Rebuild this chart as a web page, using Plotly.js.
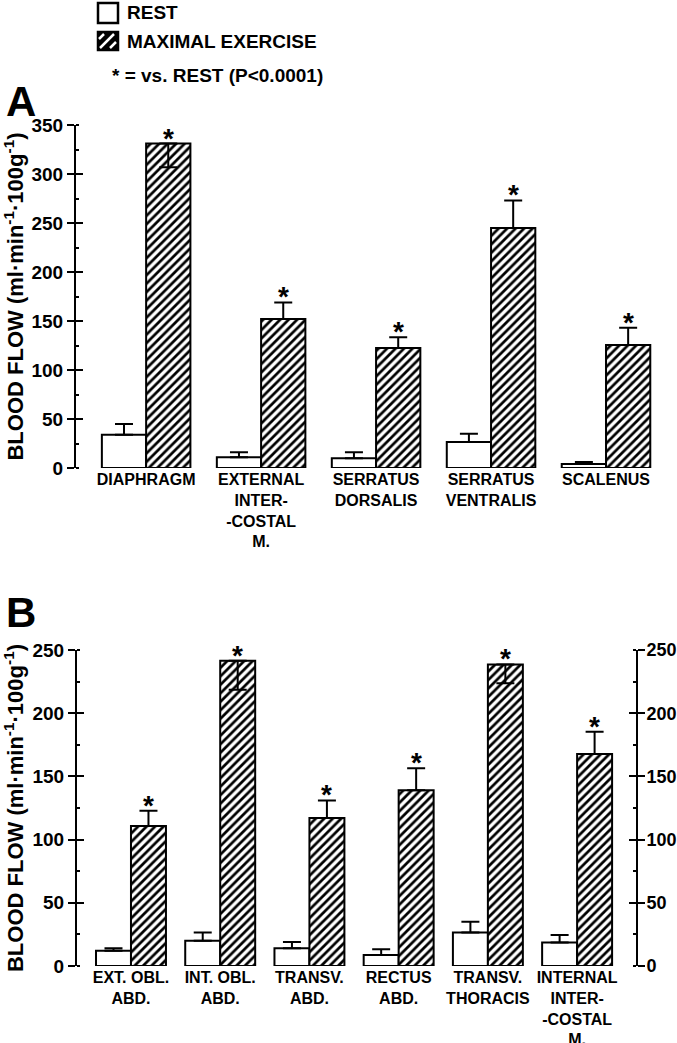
<!DOCTYPE html>
<html>
<head>
<meta charset="utf-8">
<script src="https://cdn.plot.ly/plotly-3.0.1.min.js"></script>
<style>html,body{margin:0;padding:0;background:#fff;}#chart{width:677px;height:1043px;}</style>
</head>
<body>
<div id="chart"></div>
<script>
// ---- Panel A data ----
const catsA = ["DIAPHRAGM", "EXTERNAL<br>INTER-<br>-COSTAL<br>M.", "SERRATUS<br>DORSALIS", "SERRATUS<br>VENTRALIS", "SCALENUS"];
const restA = [34, 11, 10, 26.5, 4];
const restErrA = [11, 5, 6, 8.5, 2];
const exA = [331, 152, 122.5, 245, 125.5];
const exErrUpA = [0, 17, 11, 28, 17.5];
const exErrDownA = [24, 0, 0, 0, 0];

// ---- Panel B data ----
const catsB = ["EXT. OBL.<br>ABD.", "INT. OBL.<br>ABD.", "TRANSV.<br>ABD.", "RECTUS<br>ABD.", "TRANSV.<br>THORACIS", "INTERNAL<br>INTER-<br>-COSTAL<br>M."];
const restB = [12, 20, 14, 8.7, 26.6, 18.5];
const restErrB = [2, 6.5, 5, 4.5, 8.5, 6];
const exB = [110.8, 241.5, 117, 139, 238.6, 167.7];
const exErrUpB = [12, 0, 14, 17.5, 0, 17.7];
const exErrDownB = [0, 23, 0, 0, 15, 0];

const seriesNames = ["REST", "MAXIMAL EXERCISE"];
const yTitle = "BLOOD FLOW (ml·min<sup>-1</sup>·100g<sup>-1</sup>)";
const sigNote = "* = vs. REST (P<0.0001)";

const FONT = "Liberation Sans, Arial, Helvetica, sans-serif";
const W = 677, H = 1043;
const wA = 0.385, wB = 0.392;
const px = v => v / W;          // pixel -> paper x
const py = v => 1 - v / H;      // pixel -> paper y

function restTrace(cats, vals, errs, xa, ya, w) {
  return {
    type: "bar", x: cats, y: vals, xaxis: xa, yaxis: ya,
    name: seriesNames[0], showlegend: false,
    width: w, offset: -w,
    marker: {color: "#ffffff", line: {color: "#000", width: 2}},
    error_y: {type: "data", symmetric: false, array: errs, arrayminus: errs.map(() => 0),
              color: "#000", thickness: 2, width: 9}
  };
}
function exTrace(cats, vals, up, down, xa, ya, w) {
  return {
    type: "bar", x: cats, y: vals, xaxis: xa, yaxis: ya,
    name: seriesNames[1], showlegend: false,
    width: w, offset: 0,
    marker: {color: "#ffffff", line: {color: "#000", width: 2},
             pattern: {shape: "/", fgcolor: "#000", bgcolor: "#fff", size: 6, solidity: 0.45}},
    error_y: {type: "data", symmetric: false, array: up, arrayminus: down,
              color: "#000", thickness: 2, width: 9}
  };
}
function emptyTrace(xa, ya) {
  return {type: "scatter", x: [], y: [], xaxis: xa, yaxis: ya, showlegend: false, hoverinfo: "skip", mode: "markers"};
}

const data = [
  restTrace(catsA, restA, restErrA, "x", "y", wA),
  exTrace(catsA, exA, exErrUpA, exErrDownA, "x", "y", wA),
  restTrace(catsB, restB, restErrB, "x2", "y2", wB),
  exTrace(catsB, exB, exErrUpB, exErrDownB, "x2", "y2", wB),
  emptyTrace("x2", "y3"),
  emptyTrace("x", "y4"),
  emptyTrace("x2", "y5"),
  emptyTrace("x2", "y6")
];

const tickFont = {family: FONT, size: 19, color: "#000", weight: 700};
const rightTickFont = {family: FONT, size: 18, color: "#000", weight: 700};
const catFont = {family: FONT, size: 16, color: "#000", weight: 700};
const titleFont = {family: FONT, size: 22, color: "#000", weight: 700};

const domA = [1 - 468 / H, 1 - 125 / H];
const domB = [1 - 966 / H, 1 - 650 / H];

function yMain(range, dtick, domain, extra) {
  return Object.assign({
    domain: domain, range: range, dtick: dtick, tick0: 0,
    showline: true, linecolor: "#000", linewidth: 2,
    ticks: "outside", ticklen: 7, tickwidth: 2, tickcolor: "#000",
    showgrid: false, zeroline: false, tickfont: tickFont,
    minor: {ticks: "inside", dtick: dtick / 2, ticklen: 3, tickwidth: 2, tickcolor: "#000", showgrid: false},
    automargin: false, fixedrange: true
  }, extra);
}
function yInner(over, side, anchor, range, dtick, domain) {
  return {
    overlaying: over, side: side, anchor: anchor, domain: domain, range: range, dtick: dtick, tick0: 0,
    showline: false, ticks: "inside", ticklen: 7, tickwidth: 2, tickcolor: "#000",
    showticklabels: false, showgrid: false, zeroline: false, automargin: false, fixedrange: true
  };
}

const layout = {
  width: W, height: H,
  margin: {l: 0, r: 0, t: 0, b: 0},
  paper_bgcolor: "#fff", plot_bgcolor: "rgba(0,0,0,0)",
  barmode: "group",
  font: {family: FONT, color: "#000"},
  showlegend: false,
  xaxis: {domain: [76 / W, 675 / W], range: [-0.61, 4.6], type: "category", anchor: "y",
          showline: false, ticks: "", showgrid: false, zeroline: false, tickfont: catFont,
          automargin: false, fixedrange: true},
  yaxis: yMain([0, 350], 50, domA, {anchor: "x",
          title: {text: yTitle, font: titleFont, standoff: 6}}),
  yaxis4: yInner("y", "left", "x", [0, 350], 50, domA),
  xaxis2: {domain: [77 / W, 636 / W], range: [-0.605, 5.66], type: "category", anchor: "y2",
           showline: false, ticks: "", showgrid: false, zeroline: false, tickfont: catFont,
           automargin: false, fixedrange: true},
  yaxis2: yMain([0, 250], 50, domB, {anchor: "x2",
          title: {text: yTitle, font: titleFont, standoff: 6}}),
  yaxis3: yMain([0, 250], 50, domB, {anchor: "x2", overlaying: "y2", side: "right",
          ticklabelstandoff: -2, tickfont: rightTickFont}),
  yaxis5: yInner("y2", "left", "x2", [0, 250], 50, domB),
  yaxis6: yInner("y2", "right", "x2", [0, 250], 50, domB),
  annotations: [],
  shapes: []
};

// significance stars above exercise bars
function addStars(vals, up, xref, yref, w) {
  vals.forEach((v, i) => {
    layout.annotations.push({
      x: i + w / 2, y: v + up[i], xref: xref, yref: yref,
      text: "*", showarrow: false, xanchor: "center", yanchor: "bottom", yshift: -12,
      font: {family: FONT, size: 28, color: "#000", weight: 700}
    });
  });
}
addStars(exA, exErrUpA, "x", "y", wA);
addStars(exB, exErrUpB, "x2", "y2", wB);

// ---- hand-drawn legend (keys + labels) ----
const legFont = {family: FONT, size: 19, color: "#000", weight: 700};
layout.shapes.push(
  {type: "rect", xref: "paper", yref: "paper", x0: px(98), x1: px(118), y0: py(3), y1: py(23),
   line: {color: "#000", width: 2.5}, fillcolor: "#fff"},
  {type: "rect", xref: "paper", yref: "paper", x0: px(98), x1: px(118), y0: py(32), y1: py(50),
   line: {color: "#000", width: 2.5}, fillcolor: "#000"},
  {type: "path", xref: "paper", yref: "paper",
   path: "M" + px(99) + "," + py(39) + " L" + px(104) + "," + py(34) +
         " M" + px(100) + "," + py(48) + " L" + px(114) + "," + py(34) +
         " M" + px(110) + "," + py(48) + " L" + px(116) + "," + py(42),
   line: {color: "#fff", width: 2.5}}
);
layout.annotations.push(
  {x: px(125), y: py(13), xref: "paper", yref: "paper", xanchor: "left", yanchor: "middle",
   text: seriesNames[0], showarrow: false, font: legFont},
  {x: px(125), y: py(42), xref: "paper", yref: "paper", xanchor: "left", yanchor: "middle",
   text: seriesNames[1], showarrow: false, font: legFont},
  {x: px(110), y: py(76), xref: "paper", yref: "paper", xanchor: "left", yanchor: "middle",
   text: sigNote, showarrow: false, font: legFont},
  {x: px(4), y: py(101), xref: "paper", yref: "paper", xanchor: "left", yanchor: "middle",
   text: "A", showarrow: false, font: {family: FONT, size: 42, color: "#000", weight: 700}},
  {x: px(4), y: py(612), xref: "paper", yref: "paper", xanchor: "left", yanchor: "middle",
   text: "B", showarrow: false, font: {family: FONT, size: 42, color: "#000", weight: 700}}
);

Plotly.newPlot("chart", data, layout, {displayModeBar: false, staticPlot: true});
</script>
</body>
</html>
